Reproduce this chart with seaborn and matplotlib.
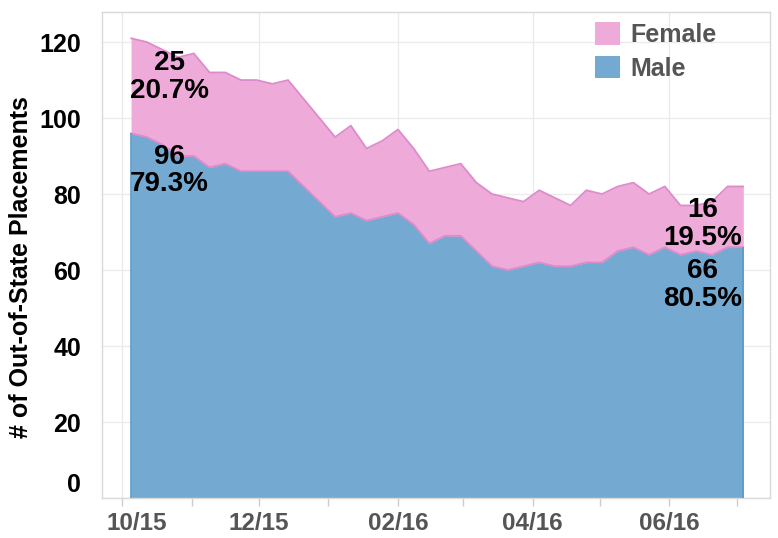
import pandas as pd
import matplotlib
matplotlib.use("Agg")
import matplotlib.pyplot as plt
import matplotlib.dates as mdates
import matplotlib.transforms as mtransforms
from matplotlib.patches import Patch
import seaborn as sns

# weekly counts, Oct 2015 - Jul 2016
start_date = "2015-10-05"
n_weeks = 40
male = [96, 95, 93, 90, 90, 87, 88, 86, 86, 86, 86, 82, 78, 74, 75, 73, 74, 75, 72, 67,
        69, 69, 65, 61, 60, 61, 62, 61, 61, 62, 62, 65, 66, 64, 66, 64, 65, 64, 66, 66]
female = [25, 25, 25, 26, 27, 25, 24, 24, 24, 23, 24, 23, 22, 21, 23, 19, 20, 22, 20, 19,
          18, 19, 18, 19, 19, 17, 19, 18, 16, 19, 18, 17, 17, 16, 16, 13, 12, 14, 16, 16]
series = ["Female", "Male"]
y_ticks = [0, 20, 40, 60, 80, 100, 120]

df = pd.DataFrame({
    "week": pd.date_range(start_date, periods=n_weeks, freq="7D"),
    "Male": male,
    "Female": female,
})
df["Total"] = df["Male"] + df["Female"]

pink = "#eeaad8"
pink_edge = "#dc8ccb"
blue = "#74aad2"
blue_edge = "#5a98c8"

sns.set_theme(style="white")
plt.rcParams["font.family"] = ["Liberation Sans", "DejaVu Sans"]

fig = plt.figure(figsize=(7.78, 5.38), dpi=100)
ax = fig.add_axes([0.131, 0.0743, 0.859, 0.904])

# stacked areas
ax.fill_between(df["week"], df["Male"], df["Total"], color=pink, lw=0, zorder=2)
ax.fill_between(df["week"], 0, df["Male"], color=blue, lw=0, zorder=2)
sns.lineplot(data=df, x="week", y="Total", color=pink_edge, lw=1.3, ax=ax, zorder=3)
sns.lineplot(data=df, x="week", y="Male", color=pink_edge, lw=1.3, ax=ax, zorder=3)
ax.vlines([df["week"].iloc[0], df["week"].iloc[-1]], 0, df["Male"].iloc[[0, -1]],
          color=blue_edge, lw=1.2, zorder=3)

ax.set_xlim(pd.Timestamp("2015-09-22"), pd.Timestamp("2016-07-16"))
ax.set_ylim(0, 128)

ax.xaxis.set_major_locator(mdates.MonthLocator(bymonth=[10, 12, 2, 4, 6]))
ax.xaxis.set_minor_locator(mdates.MonthLocator(bymonth=[11, 1, 3, 5, 7]))
ax.xaxis.set_major_formatter(mdates.DateFormatter("%m/%y"))
ax.set_yticks(y_ticks)

ax.grid(True, axis="y", color="#ebebeb", lw=1)
ax.grid(True, axis="x", which="major", color="#ebebeb", lw=1)
ax.set_axisbelow(True)

for s in ax.spines.values():
    s.set_color("#d9d9d9")
    s.set_linewidth(1)

ax.tick_params(axis="x", which="both", bottom=True, length=6, width=1, color="#cccccc",
               labelsize=17.5, labelcolor="#555555", pad=4)
ax.tick_params(axis="y", left=False, labelsize=18, labelcolor="black", pad=9)
for lab in ax.get_xticklabels() + ax.get_yticklabels():
    lab.set_fontweight("bold")
# lift the zero label and nudge the first date label, like the original
zero_lab = ax.get_yticklabels()[0]
zero_lab.set_transform(zero_lab.get_transform() +
                       mtransforms.ScaledTranslation(0, 0.16, fig.dpi_scale_trans))
first_x = ax.get_xticklabels()[0]
first_x.set_transform(first_x.get_transform() +
                      mtransforms.ScaledTranslation(0.15, 0, fig.dpi_scale_trans))

ax.set_xlabel("")
ax.set_ylabel("# of Out-of-State Placements", fontsize=18, fontweight="bold", color="black")
ax.yaxis.set_label_coords(-0.103, 0.475)

# end labels
first, last = df.iloc[0], df.iloc[-1]
lab_kw = dict(ha="center", va="center", fontsize=20, fontweight="bold", color="black",
              linespacing=1.08, zorder=5)
x_left = pd.Timestamp("2015-10-22")
x_right = pd.Timestamp("2016-06-16")
ax.text(x_left, 110.8, f"{first['Female']}\n{first['Female'] / first['Total'] * 100:.1f}%", **lab_kw)
ax.text(x_left, 86.2, f"{first['Male']}\n{first['Male'] / first['Total'] * 100:.1f}%", **lab_kw)
ax.text(x_right, 72.1, f"{last['Female']}\n{last['Female'] / last['Total'] * 100:.1f}%", **lab_kw)
ax.text(x_right, 56.1, f"{last['Male']}\n{last['Male'] / last['Total'] * 100:.1f}%", **lab_kw)

handles = [Patch(facecolor=pink, edgecolor="none"), Patch(facecolor=blue, edgecolor="none")]
leg = ax.legend(handles, series, loc="upper left", bbox_to_anchor=(0.738, 0.978), frameon=False,
                borderaxespad=0, borderpad=0, handlelength=1.0, handleheight=1.0,
                handletextpad=0.4, labelspacing=0.35,
                prop={"size": 18, "weight": "bold"})
for t in leg.get_texts():
    t.set_color("#555555")

fig.savefig("out.png", dpi=100)
